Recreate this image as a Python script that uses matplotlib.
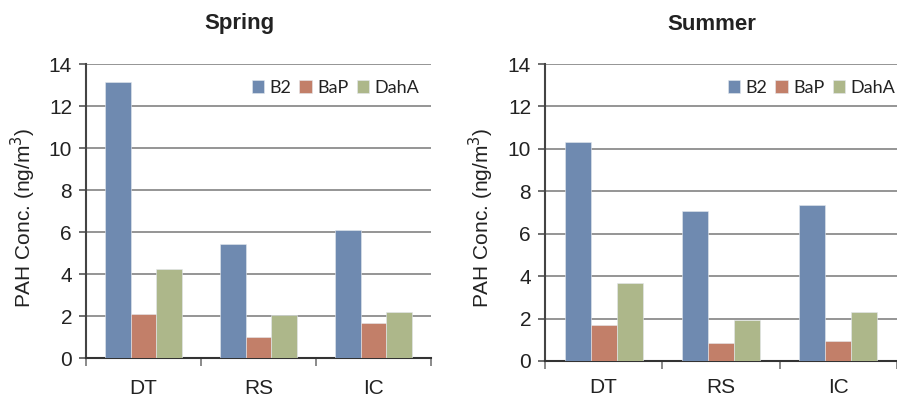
import matplotlib
matplotlib.use("Agg")
import matplotlib.pyplot as plt
import numpy as np

# Sites and compounds
sites = ["DT", "RS", "IC"]
compounds = ["B2", "BaP", "DahA"]

# PAH concentrations (ng/m3) per compound, in site order
spring_b2 = [13.15, 5.44, 6.10]
spring_bap = [2.11, 1.00, 1.65]
spring_daha = [4.25, 2.06, 2.18]

summer_b2 = [10.34, 7.06, 7.36]
summer_bap = [1.70, 0.85, 0.96]
summer_daha = [3.67, 1.95, 2.31]

y_ticks = [0, 2, 4, 6, 8, 10, 12, 14]

colors = ["#6F8AB0", "#C27F69", "#ADB78A"]

W, H = 897, 399
fig = plt.figure(figsize=(W / 100, H / 100), dpi=100)
fig.patch.set_facecolor("white")

tick_font = "Liberation Sans"
legend_font = "Lato"


def draw_panel(rect, series, title, title_x, ylabel_x, legend_right, xpad):
    ax = fig.add_axes(rect)
    x = np.arange(len(sites))
    bw = 0.222
    for i, (vals, col, name) in enumerate(zip(series, colors, compounds)):
        ax.bar(x + (i - 1) * bw, vals, width=bw, color=col, label=name,
               edgecolor="#E4E8EE", linewidth=0.4, zorder=3)
    ax.set_xlim(-0.5, 2.5)
    ax.set_ylim(0, 14)
    ax.set_yticks(y_ticks)
    ax.set_yticklabels([str(t) for t in y_ticks], fontfamily=tick_font, fontsize=15,
                       color="#222222")
    ax.yaxis.grid(True, color="#8C8C8C", linewidth=1.3, zorder=0)
    ax.set_axisbelow(True)
    ax.tick_params(axis="y", direction="out", length=5, width=1.2, color="#555555", pad=5)
    ax.set_xticks(x)
    ax.set_xticklabels(sites, fontfamily=tick_font, fontsize=15, color="#222222")
    ax.tick_params(axis="x", which="major", length=0, pad=xpad)
    ax.set_xticks([-0.5, 0.5, 1.5, 2.5], minor=True)
    ax.tick_params(axis="x", which="minor", direction="out", length=6, width=1.2,
                   color="#777777")
    for s in ("top", "right"):
        ax.spines[s].set_visible(False)
    ax.spines["left"].set_color("#444444")
    ax.spines["left"].set_linewidth(1.5)
    ax.spines["bottom"].set_color("#333333")
    ax.spines["bottom"].set_linewidth(1.5)

    fig.text(title_x / W, 1 - 24 / H, title, ha="center", va="center",
             fontfamily=tick_font, fontweight="bold", fontsize=16, color="#222222")
    fig.text(ylabel_x / W, 1 - 218 / H, "PAH Conc. (ng/m$^3$)", rotation=90,
             ha="center", va="center", fontfamily=tick_font, fontsize=15,
             color="#222222")

    leg = ax.legend(loc="center right", bbox_to_anchor=(legend_right / W, 1 - 88 / H),
                    bbox_transform=fig.transFigure, ncol=3, frameon=False,
                    prop={"family": legend_font, "size": 13},
                    handlelength=0.68, handleheight=0.68, handletextpad=0.3,
                    columnspacing=0.45, borderpad=0, borderaxespad=0)
    for t in leg.get_texts():
        t.set_color("#222222")
    return ax


draw_panel([86 / W, 41 / H, 345 / W, 294 / H],
           [spring_b2, spring_bap, spring_daha], "Spring", 239, 23, 419, 15)
draw_panel([545 / W, 38 / H, 352 / W, 297 / H],
           [summer_b2, summer_bap, summer_daha], "Summer", 712, 481, 895, 12)

fig.savefig("out.png", dpi=100, facecolor="white")
